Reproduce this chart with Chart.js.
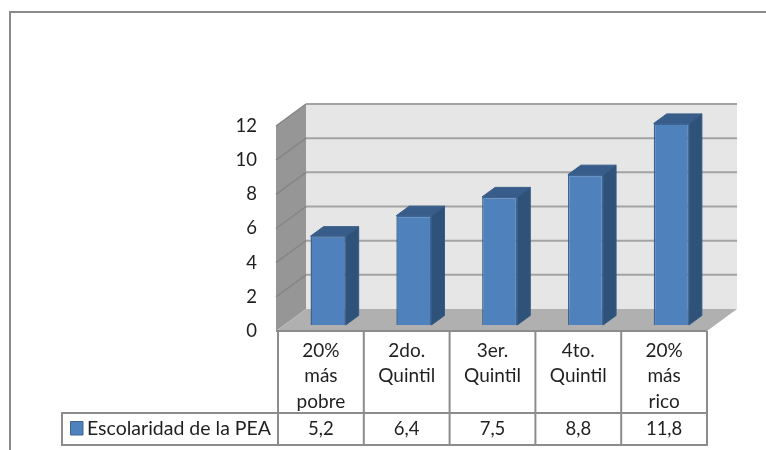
<!DOCTYPE html>
<html lang="es">
<head>
<meta charset="UTF-8">
<title>Escolaridad de la PEA</title>
<script src="https://cdn.jsdelivr.net/npm/chart.js"></script>
<style>
  html, body { margin: 0; padding: 0; background: #fff; }
  canvas { display: block; }
</style>
</head>
<body>
<canvas id="chart" width="766" height="450"></canvas>
<script>
const categories = [['20%', 'más', 'pobre'], ['2do.', 'Quintil'], ['3er.', 'Quintil'], ['4to.', 'Quintil'], ['20%', 'más', 'rico']];
const seriesName = 'Escolaridad de la PEA';
const values = [5.2, 6.4, 7.5, 8.8, 11.8];
const yTicks = [0, 2, 4, 6, 8, 10, 12];

const FONT = 'Lato, sans-serif';
const TEXT = '#1f1f1f';
const LINE = '#8c8c8c';
const wallDepth = [30, -22];
const barShift = [7.2, -6];
const barDepth = [13, -9.5];

function poly(ctx, pts, fill, stroke, lw) {
  ctx.beginPath();
  pts.forEach((p, i) => i ? ctx.lineTo(p[0], p[1]) : ctx.moveTo(p[0], p[1]));
  ctx.closePath();
  ctx.fillStyle = fill;
  ctx.fill();
  if (stroke) {
    ctx.strokeStyle = stroke;
    ctx.lineWidth = lw || 1;
    ctx.stroke();
  }
}

function seg(ctx, x1, y1, x2, y2, color, lw) {
  ctx.beginPath();
  ctx.moveTo(x1, y1);
  ctx.lineTo(x2, y2);
  ctx.strokeStyle = color;
  ctx.lineWidth = lw;
  ctx.stroke();
}

// walls, floor, gridlines and the data table under the plot
const scene = {
  id: 'scene',
  beforeDatasetsDraw(chart) {
    const ctx = chart.ctx;
    const a = chart.chartArea;
    const y = chart.scales.y;
    const x = chart.scales.x;
    const dx = wallDepth[0], dy = wallDepth[1];
    const frontLeft = a.left - 2;
    const backLeft = frontLeft + dx;
    const backRight = a.right + dx;

    ctx.save();
    // frame of the picture
    seg(ctx, 10, 450, 10, 12, '#8a8a8a', 2);
    seg(ctx, 9, 12, 766, 12, '#8a8a8a', 2);

    poly(ctx, [[backLeft, a.top + dy], [backRight, a.top + dy], [backRight, a.bottom + dy], [backLeft, a.bottom + dy]], '#e6e6e6');
    poly(ctx, [[frontLeft, a.top], [backLeft, a.top + dy], [backLeft, a.bottom + dy], [frontLeft, a.bottom]], '#969696');
    poly(ctx, [[frontLeft, a.bottom], [backLeft, a.bottom + dy], [backRight, a.bottom + dy], [a.right, a.bottom]], '#b0b0b0');

    yTicks.forEach(v => {
      const py = y.getPixelForValue(v);
      if (v > 0) {
        seg(ctx, backLeft, py + dy, backRight, py + dy, '#a3a3a3', 2);
        seg(ctx, frontLeft, py, backLeft, py + dy, '#858585', 1.5);
      }
    });

    // table
    const row1 = a.bottom + 82, row2 = a.bottom + 114, legendLeft = 62;
    seg(ctx, frontLeft, a.bottom, a.right, a.bottom, LINE, 2);
    x.ticks.forEach((t, i) => {
      const cx = x.getPixelForTick(i);
      const half = (x.getPixelForTick(1) - x.getPixelForTick(0)) / 2;
      seg(ctx, cx - half, a.bottom, cx - half, row2, LINE, 2);
      if (i === x.ticks.length - 1) seg(ctx, cx + half, a.bottom, cx + half, row2, LINE, 2);
      ctx.font = '18.5px ' + FONT;
      ctx.fillStyle = TEXT;
      ctx.textAlign = 'center';
      ctx.textBaseline = 'middle';
      ctx.fillText(values[i].toFixed(1).replace('.', ','), cx, row1 + 16.5);
    });
    seg(ctx, legendLeft, row1, a.right, row1, LINE, 2);
    seg(ctx, legendLeft, row2, a.right + 1, row2, LINE, 2);
    seg(ctx, legendLeft, row1 - 1, legendLeft, row2 + 1, LINE, 2);

    poly(ctx, [[70.5, row1 + 8.5], [83, row1 + 8.5], [83, row1 + 22], [70.5, row1 + 22]], '#4f81bd', '#3c6594', 1);
    ctx.font = '19.5px ' + FONT;
    ctx.fillStyle = TEXT;
    ctx.textAlign = 'left';
    ctx.textBaseline = 'middle';
    ctx.fillText(seriesName, 87, row1 + 16);
    ctx.restore();

    // depth faces of the bars, then shift the library's own bars to their plane
    ctx.save();
    ctx.translate(barShift[0], barShift[1]);
    const bdx = barDepth[0], bdy = barDepth[1];
    chart.getDatasetMeta(0).data.forEach(b => {
      const l = b.x - b.width / 2, r = b.x + b.width / 2;
      poly(ctx, [[r, b.y], [r + bdx, b.y + bdy], [r + bdx, b.base + bdy], [r, b.base]], '#2f5279', '#365b88', 1);
      poly(ctx, [[l, b.y], [l + bdx, b.y + bdy], [r + bdx, b.y + bdy], [r, b.y]], '#385d8a', '#365b88', 1);
    });
  },
  afterDatasetsDraw(chart) {
    chart.ctx.restore();
  }
};

new Chart(document.getElementById('chart'), {
  type: 'bar',
  data: {
    labels: categories,
    datasets: [{
      label: seriesName,
      data: values,
      backgroundColor: '#4f81bd',
      borderColor: '#3c6594',
      borderWidth: 1.5,
      barPercentage: 0.41,
      categoryPercentage: 1,
      clip: false
    }]
  },
  options: {
    responsive: false,
    animation: false,
    layout: { padding: { top: 126, right: 59, left: 0, bottom: 0 } },
    plugins: { legend: { display: false }, tooltip: { enabled: false } },
    scales: {
      x: {
        afterFit(s) { s.height = 119; },
        grid: { display: false, drawTicks: false },
        border: { display: false },
        ticks: {
          autoSkip: false, maxRotation: 0, minRotation: 0, padding: 7, color: TEXT,
          font: { family: FONT, size: 19, lineHeight: 1.34 }
        }
      },
      y: {
        min: 0,
        max: 12,
        afterFit(s) { s.width = 278; },
        afterBuildTicks(s) { s.ticks = yTicks.map(v => ({ value: v })); },
        grid: { display: false, drawTicks: false },
        border: { display: false },
        ticks: { padding: 21, color: TEXT, font: { family: FONT, size: 18.5 } }
      }
    }
  },
  plugins: [scene]
});
</script>
</body>
</html>
